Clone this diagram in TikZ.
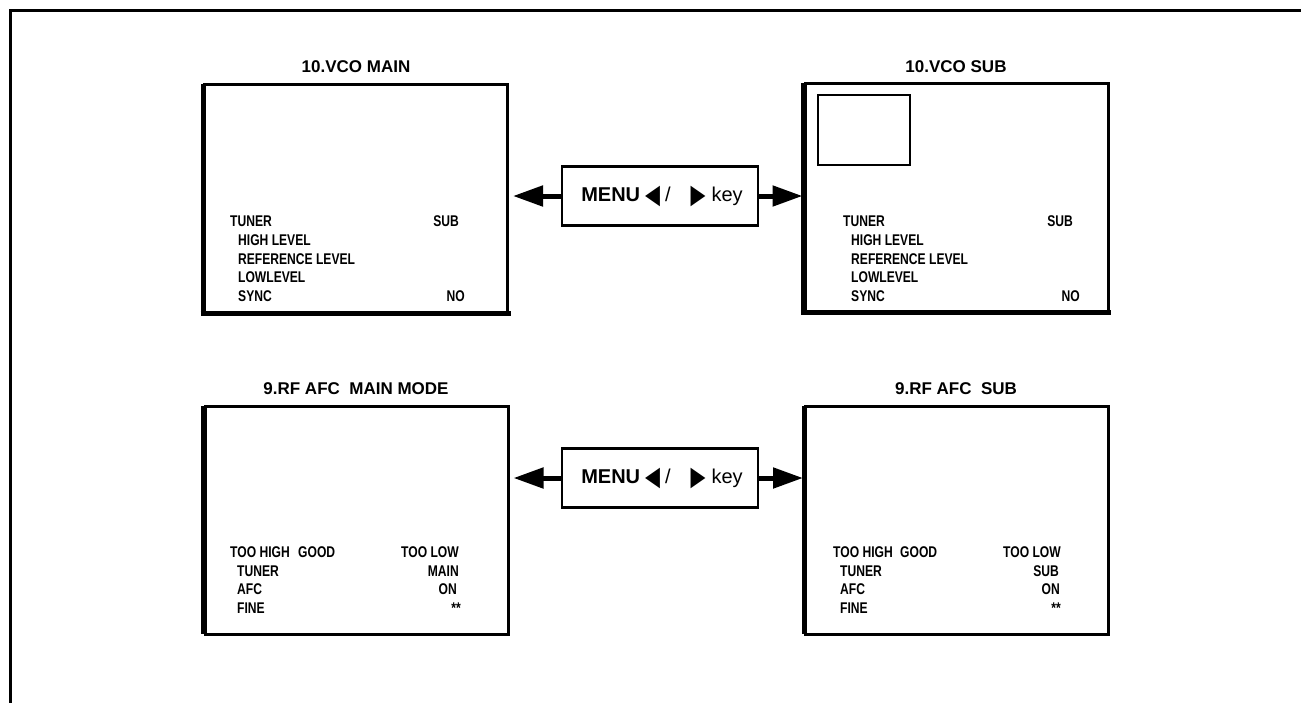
\documentclass[tikz,border=0pt]{standalone}
\usepackage{fontspec}
\setmainfont{Liberation Sans}
\newfontfamily\narrowfont[FakeStretch=0.78]{Liberation Sans}
\newfontfamily\symfont{DejaVu Sans}
\usetikzlibrary{arrows.meta}
\newcommand{\tri}[1]{\raisebox{-1.5pt}{\scalebox{0.72}[1]{\symfont\fontsize{27}{29}\selectfont #1}}}
\begin{document}
\begin{tikzpicture}[x=1pt,y=-1pt,
  screen/.style={draw,line width=3pt,minimum width=303pt,minimum height=228pt,inner sep=0pt},
  thickside/.style={line width=5pt},
  menubox/.style={draw,line width=2.5pt,minimum width=196pt,minimum height=59pt,inner sep=0pt,
    font=\fontsize{20}{22}\selectfont},
  title/.style={font=\fontsize{17}{19}\selectfont\bfseries,inner sep=0pt},
  lbl/.style={font=\narrowfont\fontsize{15.5}{17}\selectfont\bfseries,inner sep=0pt,anchor=base west},
  val/.style={font=\narrowfont\fontsize{15.5}{17}\selectfont\bfseries,inner sep=0pt,anchor=base east},
  bigarrow/.style={line width=5pt,-{Triangle[length=30pt,width=20pt]}}
]
\useasboundingbox (0,0) rectangle (1301,702);
% outer frame
\coordinate (fTL) at (10,10);
\coordinate (fTR) at (1310,10);
\coordinate (fBL) at (10,712);
\draw[line width=3pt] (fBL) -- (fTL) -- (fTR);

% screens
\node[screen] (b1) at (356,198) {};
\node[screen] (b2) at (956.5,197) {};
\node[screen] (b3) at (356.5,520) {};
\node[screen] (b4) at (957,520) {};
\foreach \b in {b1,b2,b3,b4}{
  \draw[thickside] ([yshift=-1.5pt]\b.north west) -- ([yshift=1.5pt]\b.south west);
}
\foreach \b in {b1,b2}{
  \draw[thickside] ([xshift=-2.5pt]\b.south west) -- ([xshift=1.5pt]\b.south east);
}
% pip window
\node[draw,line width=2.5pt,minimum width=92pt,minimum height=70pt,inner sep=0pt] (pip) at (864,130) {};

% titles
\node[title] (t1) at (356,67) {10.VCO MAIN};
\node[title] (t2) at (956,67) {10.VCO SUB};
\node[title] (t3) at (356,389) {9.RF AFC\ \ MAIN MODE};
\node[title] (t4) at (956,389) {9.RF AFC\ \ SUB};

% menu boxes
\node[menubox] (m1) at (660,196) {\hspace{4pt}\textbf{MENU}\hspace{5pt}\tri{◀}\hspace{5pt}/\hspace{20pt}\tri{▶}\hspace{6pt}key};
\node[menubox] (m2) at (660,478) {\hspace{4pt}\textbf{MENU}\hspace{5pt}\tri{◀}\hspace{5pt}/\hspace{20pt}\tri{▶}\hspace{6pt}key};
\draw[bigarrow,shorten >=4pt] (m1.west) -- (m1.west -| b1.east);
\draw[bigarrow,shorten >=1pt] (m1.east) -- (m1.east -| b2.west);
\draw[bigarrow,shorten >=4pt] (m2.west) -- (m2.west -| b3.east);
\draw[bigarrow,shorten >=1pt] (m2.east) -- (m2.east -| b4.west);

% box 1 text
\node[lbl] (a1) at (230,226) {TUNER};
\node[lbl] (a2) at (238,245) {HIGH LEVEL};
\node[lbl] (a3) at (238,264) {REFERENCE LEVEL};
\node[lbl] (a4) at (238,282.5) {LOWLEVEL};
\node[lbl] (a5) at (238,301) {SYNC};
\node[val] (a6) at (459,226) {SUB};
\node[val] (a7) at (465,301) {NO};

% box 2 text
\node[lbl] (c1) at (843,226) {TUNER};
\node[lbl] (c2) at (851,245) {HIGH LEVEL};
\node[lbl] (c3) at (851,264) {REFERENCE LEVEL};
\node[lbl] (c4) at (851,282.5) {LOWLEVEL};
\node[lbl] (c5) at (851,301) {SYNC};
\node[val] (c6) at (1073,226) {SUB};
\node[val] (c7) at (1080,301) {NO};

% box 3 text
\node[lbl] (d1) at (230,557) {TOO HIGH};
\node[lbl] (d2) at (298,557) {GOOD};
\node[lbl] (d3) at (401,557) {TOO LOW};
\node[lbl] (d4) at (237,576) {TUNER};
\node[lbl] (d5) at (237,594.5) {AFC};
\node[lbl] (d6) at (237,613) {FINE};
\node[val] (d7) at (459,576) {MAIN};
\node[val] (d8) at (457,594.5) {ON};
\node[val] (d9) at (461,613) {**};

% box 4 text
\node[lbl] (e1) at (833,557) {TOO HIGH};
\node[lbl] (e2) at (900,557) {GOOD};
\node[lbl] (e3) at (1003,557) {TOO LOW};
\node[lbl] (e4) at (840,576) {TUNER};
\node[lbl] (e5) at (840,594.5) {AFC};
\node[lbl] (e6) at (840,613) {FINE};
\node[val] (e7) at (1059,576) {SUB};
\node[val] (e8) at (1060,594.5) {ON};
\node[val] (e9) at (1061,613) {**};
\end{tikzpicture}
\end{document}
